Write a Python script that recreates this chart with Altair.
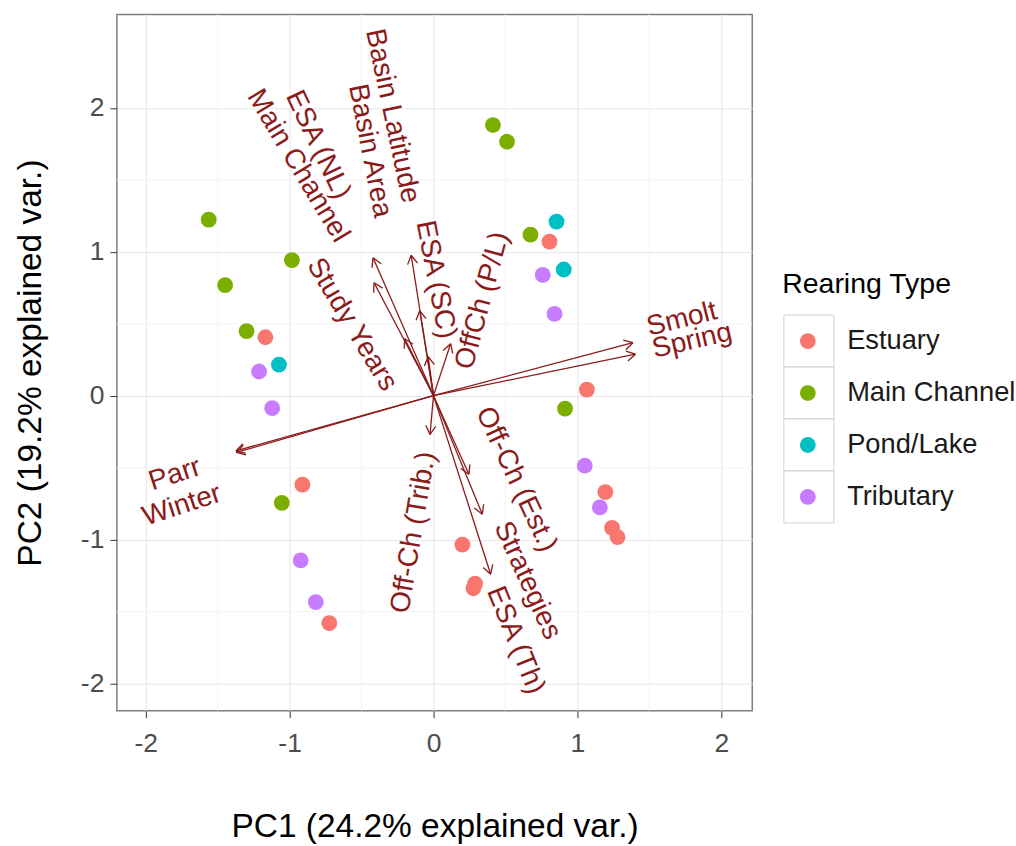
import altair as alt
import pandas as pd
import numpy as np

# ---------------- data ----------------
categories = ["Estuary", "Main Channel", "Pond/Lake", "Tributary"]
colors = ["#F8766D", "#7CAE00", "#00BFC4", "#C77CFF"]

est_x = [0.806, -1.168, 1.066, -0.911, 1.194, 1.241, 1.279, 0.201, 0.289, 0.277, -0.724]
est_y = [1.071, 0.406, 0.042, -0.619, -0.671, -0.919, -0.984, -1.035, -1.306, -1.339, -1.581]
main_x = [0.413, 0.511, -1.562, -0.984, -1.448, -1.299, 0.674, 0.914, -1.054]
main_y = [1.881, 1.765, 1.223, 0.942, 0.768, 0.448, 1.119, -0.090, -0.745]
pond_x = [0.855, 0.905, -1.074]
pond_y = [1.210, 0.877, 0.216]
trib_x = [0.759, 0.841, -1.212, -1.121, 1.051, 1.156, -0.923, -0.818]
trib_y = [0.839, 0.568, 0.168, -0.087, -0.487, -0.777, -1.145, -1.435]

var_names = ["Basin Latitude", "Basin Area", "ESA (NL)", "Main Channel", "Study Years",
             "ESA (SC)", "OffCh (P/L)", "Smolt", "Spring", "Parr", "Winter",
             "Off-Ch (Est.)", "Strategies", "ESA (Th)", "Off-Ch (Trib.)"]
arrow_x = [-0.155, -0.096, -0.420, -0.413, -0.200, -0.037, 0.119, 1.386, 1.403,
           -1.373, -1.370, 0.246, 0.339, 0.397, -0.024]
arrow_y = [0.976, 0.590, 0.958, 0.785, 0.396, 0.271, 0.361, 0.368, 0.288,
           -0.384, -0.395, -0.547, -0.824, -1.241, -0.270]
label_x = [-0.287, -0.443, -0.804, -0.942, -0.568, 0.015, 0.341, 1.727, 1.797,
           -1.796, -1.748, 0.574, 0.652, 0.570, -0.137]
label_y = [1.944, 1.701, 1.743, 1.597, 0.493, 0.806, 0.660, 0.530, 0.380,
           -0.549, -0.764, -0.583, -1.285, -1.701, -0.951]
label_angle = [78, 79, 64.5, 59, 59, 79, -75, -14, -13, -18, -18, 65, 65.6, 68, -80.5]

x_ticks = [-2, -1, 0, 1, 2]
y_ticks = [-2, -1, 0, 1, 2]
minor_vals = [-1.5, -0.5, 0.5, 1.5]

# ---------------- tables ----------------
pts = pd.concat([
    pd.DataFrame({"PC1": main_x, "PC2": main_y, "type": "Main Channel"}),
    pd.DataFrame({"PC1": est_x, "PC2": est_y, "type": "Estuary"}),
    pd.DataFrame({"PC1": trib_x, "PC2": trib_y, "type": "Tributary"}),
    pd.DataFrame({"PC1": pond_x, "PC2": pond_y, "type": "Pond/Lake"}),
], ignore_index=True)

arrows = pd.DataFrame({"name": var_names, "x0": 0.0, "y0": 0.0, "x": arrow_x, "y": arrow_y})
head_len = 0.07
barbs = []
for n, ax, ay in zip(var_names, arrow_x, arrow_y):
    ang = np.arctan2(ay, ax)
    for s in (1, -1):
        a = ang + np.pi + s * np.pi / 6
        barbs.append({"name": n, "x": ax, "y": ay,
                      "x2": ax + head_len * np.cos(a), "y2": ay + head_len * np.sin(a)})
barbs = pd.DataFrame(barbs)
labels = pd.DataFrame({"name": var_names, "x": label_x, "y": label_y, "angle": label_angle})
minor = pd.DataFrame({"v": minor_vals})

FONT = "Liberation Sans"
DARKRED = "#8B1A1A"

xs = alt.Scale(domain=[-2.2, 2.215], nice=False, zero=False)
ys = alt.Scale(domain=[-2.19, 2.65], nice=False, zero=False)

x_axis = alt.Axis(values=x_ticks, labelExpr="datum.value + ''", grid=True, gridColor="#E6E6E6",
                  domain=False, tickColor="#333333", tickSize=7, labelFontSize=26.5,
                  labelColor="#4D4D4D", labelPadding=13, titleFontSize=33.5, titleColor="#000000",
                  titleFontWeight="normal", titlePadding=53, labelFont=FONT, titleFont=FONT)
y_axis = alt.Axis(values=y_ticks, labelExpr="datum.value + ''", grid=True, gridColor="#E6E6E6",
                  domain=False, tickColor="#333333", tickSize=7, labelFontSize=26.5,
                  labelColor="#4D4D4D", labelPadding=6, titleFontSize=33.5, titleColor="#000000",
                  titleFontWeight="normal", titlePadding=33, labelFont=FONT, titleFont=FONT)
X_TITLE = "PC1 (24.2% explained var.)"
Y_TITLE = "PC2 (19.2% explained var.)"

vminor = alt.Chart(minor).mark_rule(color="#F3F3F3", strokeWidth=1).encode(
    x=alt.X("v:Q", scale=xs, axis=x_axis, title=X_TITLE))
hminor = alt.Chart(minor).mark_rule(color="#F3F3F3", strokeWidth=1).encode(
    y=alt.Y("v:Q", scale=ys, axis=y_axis, title=Y_TITLE))

shafts = alt.Chart(arrows).mark_rule(color=DARKRED, strokeWidth=1.3).encode(
    x=alt.X("x0:Q", scale=xs, axis=x_axis, title=X_TITLE),
    y=alt.Y("y0:Q", scale=ys, axis=y_axis, title=Y_TITLE),
    x2="x:Q", y2="y:Q")

heads = alt.Chart(barbs).mark_rule(color=DARKRED, strokeWidth=1.3).encode(
    x=alt.X("x:Q", scale=xs, axis=x_axis, title=X_TITLE),
    y=alt.Y("y:Q", scale=ys, axis=y_axis, title=Y_TITLE), x2="x2:Q", y2="y2:Q")

points = alt.Chart(pts).mark_circle(size=250, opacity=1).encode(
    x=alt.X("PC1:Q", scale=xs, axis=x_axis, title=X_TITLE),
    y=alt.Y("PC2:Q", scale=ys, axis=y_axis, title=Y_TITLE),
    color=alt.Color("type:N", scale=alt.Scale(domain=categories, range=colors), legend=None))

texts = alt.Chart(labels).mark_text(font=FONT, fontSize=28, color=DARKRED,
                                    align="center", baseline="middle").encode(
    x=alt.X("x:Q", scale=xs, axis=x_axis, title=X_TITLE),
    y=alt.Y("y:Q", scale=ys, axis=y_axis, title=Y_TITLE),
    angle=alt.Angle("angle:Q", scale=None), text="name:N")

main = alt.layer(vminor, hminor, shafts, heads, points, texts).properties(
    width=636, height=697,
    view=alt.ViewBackground(stroke="#7F7F7F", strokeWidth=1.5))

# ---------------- legend panel ----------------
leg = pd.DataFrame({"type": categories, "i": list(range(len(categories)))})
leg["i0"] = leg["i"] - 0.5
leg["i1"] = leg["i"] + 0.5
leg["bx0"] = 0.040
leg["bx1"] = 0.249
leg["cx"] = 0.140
leg["tx"] = 0.304
lx = alt.Scale(domain=[0, 1], nice=False, zero=False)
ly = alt.Scale(domain=[-6.2885, 7.1154], nice=False, zero=False, reverse=True)

boxes = alt.Chart(leg).mark_rect(fill="white", stroke="#D0D0D0", strokeWidth=1).encode(
    x=alt.X("bx0:Q", scale=lx, axis=None), x2="bx1:Q",
    y=alt.Y("i0:Q", scale=ly, axis=None), y2="i1:Q")
dots = alt.Chart(leg).mark_circle(size=250, opacity=1).encode(
    x=alt.X("cx:Q", scale=lx, axis=None), y=alt.Y("i:Q", scale=ly, axis=None),
    color=alt.Color("type:N", scale=alt.Scale(domain=categories, range=colors), legend=None))
ltext = alt.Chart(leg).mark_text(font=FONT, fontSize=27.3, color="#1A1A1A", align="left",
                                 baseline="middle").encode(
    x=alt.X("tx:Q", scale=lx, axis=None), y=alt.Y("i:Q", scale=ly, axis=None), text="type:N")
ltitle = alt.Chart(pd.DataFrame({"t": ["Rearing Type"], "x": [0.033], "y": [-1.096]})).mark_text(
    font=FONT, fontSize=28.5, color="#000000", align="left", baseline="middle").encode(
    x=alt.X("x:Q", scale=lx, axis=None), y=alt.Y("y:Q", scale=ly, axis=None), text="t:N")

legend = alt.layer(boxes, dots, ltext, ltitle).properties(
    width=240, height=697, view=alt.ViewBackground(stroke=None))

chart = alt.hconcat(main, legend, spacing=20).resolve_scale(
    x="independent", y="independent", color="shared"
).properties(
    padding={"left": 12, "top": 12, "right": 0, "bottom": 0},
    background="white",
).configure_view(stroke=None).configure(font=FONT)

chart.save("out.html", embed_options={"renderer": "svg", "actions": False})
